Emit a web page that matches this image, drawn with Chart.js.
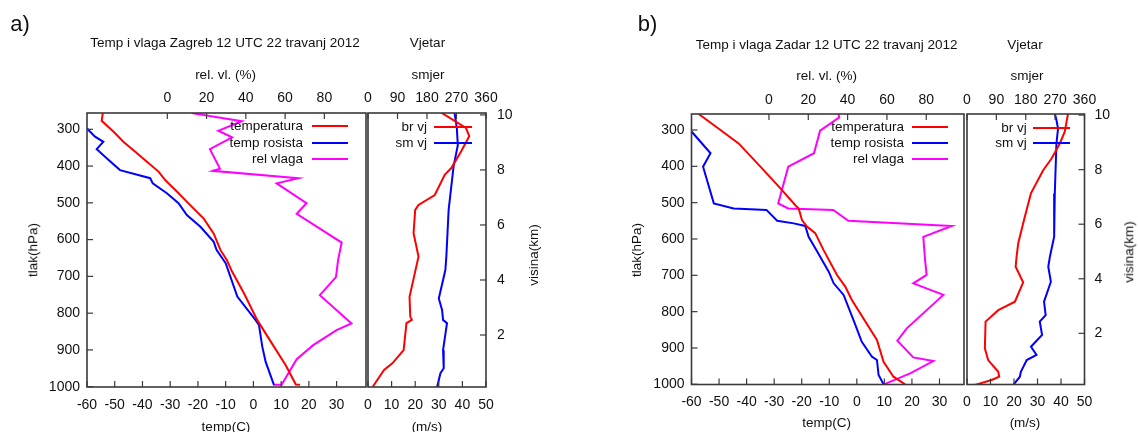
<!DOCTYPE html>
<html><head><meta charset="utf-8">
<script src="https://cdn.jsdelivr.net/npm/chart.js@4.4.1/dist/chart.umd.min.js"></script>
<style>
html,body{margin:0;padding:0;background:#fff;}
#wrap{position:relative;width:1138px;height:432px;overflow:hidden;font-family:'Liberation Sans',Arial,sans-serif;color:#111;}
canvas{position:absolute;left:0;top:0;}
.t{position:absolute;white-space:nowrap;transform:translate(-50%,-50%);font-size:13.5px;line-height:1;}
.r{transform:translate(-50%,-50%) rotate(-90deg);}
.lg{position:absolute;white-space:nowrap;transform:translate(-100%,-50%);font-size:13.5px;line-height:1;}
.ln{position:absolute;height:2px;}
</style></head><body>
<div id="wrap">
<canvas id="cA1" width="1138" height="432"></canvas>
<canvas id="cA2" width="1138" height="432"></canvas>
<canvas id="cB1" width="1138" height="432"></canvas>
<canvas id="cB2" width="1138" height="432"></canvas>

<div class="t" style="left:20px;top:24px;font-size:22px">a)</div>
<div class="t" style="left:225px;top:43px">Temp i vlaga Zagreb 12 UTC 22 travanj 2012</div>
<div class="t" style="left:427.5px;top:43px">Vjetar</div>
<div class="t" style="left:225.5px;top:75px">rel. vl. (%)</div>
<div class="t" style="left:428px;top:75px">smjer</div>
<div class="t r" style="left:33px;top:250px">tlak(hPa)</div>
<div class="t r" style="left:534px;top:255px">visina(km)</div>
<div class="t" style="left:226px;top:427px">temp(C)</div>
<div class="t" style="left:427px;top:427px">(m/s)</div>

<div class="t" style="left:647.5px;top:24px;font-size:22px">b)</div>
<div class="t" style="left:826.7px;top:45px">Temp i vlaga Zadar 12 UTC 22 travanj 2012</div>
<div class="t" style="left:1025px;top:45px">Vjetar</div>
<div class="t" style="left:826.7px;top:76px">rel. vl. (%)</div>
<div class="t" style="left:1027px;top:76px">smjer</div>
<div class="t r" style="left:637px;top:250px">tlak(hPa)</div>
<div class="t r" style="left:1129px;top:252px">visina(km)</div>
<div class="t" style="left:826.7px;top:423.3px">temp(C)</div>
<div class="t" style="left:1025px;top:423.3px">(m/s)</div>
</div>

<script>
// ---------------- DATA ----------------
// Zagreb (a)
const zgTempP = [256, 277, 306, 334, 361, 388, 415, 438, 470, 507, 543, 584, 628, 657, 687, 746, 819, 891, 941, 994, 995];
const zgTemp  = [-54.3, -54.7, -50.5, -46.9, -42.6, -38.4, -34.2, -31.8, -27.5, -22.7, -17.9, -14.3, -11.9, -9.5, -7.7, -3.4, 1.4, 7.4, 11.6, 15.3, 16.8];
const zgDewP  = [298, 320, 334, 354, 383, 411, 433, 447, 474, 501, 533, 565, 606, 628, 664, 755, 819, 832, 891, 932, 995];
const zgDew   = [-60, -57.1, -54.1, -56.5, -52.3, -48.1, -37.2, -36.3, -31.2, -27, -24, -19.1, -14.3, -13.3, -10, -5.8, 0.8, 2, 3.2, 4.4, 7.4];
const zgRhP   = [256, 278, 304, 322, 354, 407, 413, 433, 447, 501, 530, 608, 655, 702, 751, 828, 846, 887, 925, 995, 995];
const zgRh    = [12.4, 37.9, 26.0, 33.0, 21.7, 26.8, 23.2, 66.7, 55.7, 70.9, 65.9, 88.8, 87.0, 85.9, 77.7, 93.8, 86.2, 74.3, 65.9, 58.2, 53.9];
const zgSpdH  = [10.08, 9.53, 9.23, 8.68, 8.07, 7.82, 7.09, 6.73, 6.55, 5.70, 4.85, 3.39, 2.67, 2.55, 2.43, 1.45, 0.97, 0.73, 0.12];
const zgSpd   = [31.1, 41.5, 42.9, 39.5, 35.3, 32.5, 28.3, 21.4, 20.0, 19.3, 21.4, 17.6, 17.9, 18.6, 16.3, 15.1, 10.3, 6.8, 2.0];
const zgDirH  = [10.08, 9.53, 8.9, 8.12, 6.55, 4.85, 4.36, 3.33, 2.91, 2.55, 2.43, 1.45, 0.79, 0.61, 0.12];
const zgDir   = [264, 271, 274, 261, 246, 239, 236, 216, 226, 229, 241, 229, 231, 221, 211];
// Zadar (b)
const zdTempP = [256, 300, 337, 401, 460, 507, 516, 548, 566, 584, 630, 699, 731, 768, 878, 938, 979, 1000];
const zdTemp  = [-57.4, -49.5, -42.9, -35, -27.8, -22.3, -21.1, -19.9, -18.1, -15.1, -12.1, -7.2, -4.2, -1.8, 7.3, 9.7, 13.3, 17.5];
const zdDewP  = [304, 364, 401, 502, 516, 520, 550, 557, 564, 594, 630, 690, 722, 754, 823, 883, 924, 933, 974, 1000];
const zdDew   = [-60, -53.1, -55.8, -51.9, -44.7, -32.8, -28.9, -22.9, -18.7, -17.5, -14.7, -10.2, -8.4, -4.8, -1.2, 1.8, 5.5, 7.3, 7.9, 9.7];
const zdRhP   = [256, 265, 302, 364, 401, 502, 516, 520, 550, 564, 594, 658, 699, 722, 754, 846, 880, 926, 936, 970, 1000];
const zdRh    = [35.3, 35.8, 26, 22.9, 9.8, 4.7, 9.8, 32.7, 40.4, 93, 78.5, 79.4, 80.2, 73.4, 88.7, 70.1, 65.3, 73.4, 83.6, 71.8, 58.5];
const zdSpdH  = [10.06, 9.39, 8.96, 8.41, 7.98, 7.13, 6.27, 5.30, 4.81, 4.44, 3.87, 3.16, 2.85, 2.43, 1.45, 1.02, 0.59, 0.41, 0.29, 0.11];
const zdSpd   = [43.0, 41.6, 39.5, 36.0, 32.4, 27.2, 24.6, 21.8, 21.1, 20.7, 23.9, 20.4, 13.3, 7.9, 7.6, 9.0, 13.3, 13.7, 10.5, 3.4];
const zdDirH  = [10.06, 9.82, 9.51, 8.96, 7.13, 5.54, 4.81, 4.44, 3.89, 3.16, 2.67, 2.43, 1.94, 1.51, 1.21, 1.02, 0.59, 0.41, 0.11];
const zdDir   = [269, 274, 279, 274, 269, 267, 254, 249, 257, 236, 241, 223, 230, 196, 213, 183, 165, 162, 142];
// tick labels
const tempTicks   = [-60, -50, -40, -30, -20, -10, 0, 10, 20, 30];
const rhTicks     = [0, 20, 40, 60, 80];
const presTicks   = [300, 400, 500, 600, 700, 800, 900, 1000];
const speedTicks  = [0, 10, 20, 30, 40, 50];
const dirTicks    = [0, 90, 180, 270, 360];
const heightTicks = [2, 4, 6, 8, 10];
// series names
const sondeLabels = ['temperatura', 'temp rosista', 'rel vlaga'];
const windLabels  = ['br vj', 'sm vj'];

// ---------------- CHARTS ----------------
const FONT = "'Liberation Sans', Arial, sans-serif";
Chart.defaults.font.family = FONT;
Chart.defaults.font.size = 14;
Chart.defaults.color = '#111';
const RED = '#ff0000', BLUE = '#0000ff', MAG = '#ff00ff';
const W = 1138, H = 432;
const AXV = 46; // width of vertical axis boxes
const AXH = 34; // height of horizontal axis boxes

function pts(xs, ys) { return xs.map((x, i) => ({ x: x, y: ys[i] })); }

const frameTicks = {
  id: 'frameTicks',
  afterDraw(chart) {
    const ctx = chart.ctx, a = chart.chartArea;
    ctx.save();
    ctx.strokeStyle = '#3a3a3a';
    ctx.lineWidth = 1.2;
    Object.values(chart.scales).forEach(s => {
      s.ticks.forEach(t => {
        const p = s.getPixelForValue(t.value);
        ctx.beginPath();
        if (s.position === 'left') { ctx.moveTo(a.left, p); ctx.lineTo(a.left + 6, p); }
        else if (s.position === 'right') { ctx.moveTo(a.right, p); ctx.lineTo(a.right - 6, p); }
        else if (s.position === 'bottom') { ctx.moveTo(p, a.bottom); ctx.lineTo(p, a.bottom - 6); }
        else { ctx.moveTo(p, a.top); ctx.lineTo(p, a.top + 6); }
        ctx.stroke();
      });
    });
    ctx.lineWidth = 1.6;
    ctx.strokeRect(a.left, a.top, a.right - a.left, a.bottom - a.top);
    ctx.restore();
  }
};

function axis(pos, min, max, ticks, pad, reverse) {
  return {
    type: 'linear', position: pos, min: min, max: max, reverse: !!reverse,
    grid: { display: false, drawTicks: false, tickLength: 0 }, border: { display: false },
    ticks: { padding: pad, autoSkip: false, maxRotation: 0, minRotation: 0, callback: v => String(v) },
    afterBuildTicks: s => { s.ticks = ticks.map(v => ({ value: v })); },
    afterFit: s => { if (pos === 'left' || pos === 'right') s.width = AXV; else s.height = AXH; }
  };
}

function ds(label, data, color, xAxisID, yAxisID) {
  return { label: label, data: data, borderColor: color, backgroundColor: color, borderWidth: 2,
    showLine: true, pointRadius: 0, tension: 0, clip: 0, xAxisID: xAxisID, yAxisID: yAxisID };
}

function make(id, g, datasets, scales) {
  const hasLeft = Object.values(scales).some(s => s.position === 'left');
  const hasRight = Object.values(scales).some(s => s.position === 'right');
  return new Chart(document.getElementById(id), {
    type: 'scatter',
    data: { datasets: datasets },
    options: {
      responsive: false, animation: false, devicePixelRatio: 1,
      layout: { padding: {
        left: g.l - (hasLeft ? AXV : 0), right: W - g.r - (hasRight ? AXV : 0),
        top: g.t - AXH, bottom: H - g.b - AXH } },
      plugins: { legend: { display: false }, tooltip: { enabled: false }, title: { display: false } },
      scales: scales
    },
    plugins: [frameTicks]
  });
}

function legend(chart, textRight, x1, x2, rows) {
  const wrap = document.getElementById('wrap');
  chart.data.datasets.forEach((d, i) => {
    const t = document.createElement('div');
    t.className = 'lg'; t.textContent = d.label;
    t.style.left = textRight + 'px'; t.style.top = rows[i] + 'px';
    wrap.appendChild(t);
    const l = document.createElement('div');
    l.className = 'ln'; l.style.background = d.borderColor;
    l.style.left = x1 + 'px'; l.style.width = (x2 - x1) + 'px'; l.style.top = (rows[i] - 1) + 'px';
    wrap.appendChild(l);
  });
}

// Panel a
const gA = { l: 87, r: 366, t: 113, b: 387 };
const gAW = { l: 368, r: 486, t: 113, b: 387 };
const chA1 = make('cA1', gA, [
  ds(sondeLabels[0], pts(zgTemp, zgTempP), RED, 'x', 'y'),
  ds(sondeLabels[1], pts(zgDew, zgDewP), BLUE, 'x', 'y'),
  ds(sondeLabels[2], pts(zgRh, zgRhP), MAG, 'x2', 'y')
], {
  x: axis('bottom', -60, 40.6, tempTicks, 10),
  x2: axis('top', -40.9, 101.2, rhTicks, 6),
  y: axis('left', 255.7, 1000.8, presTicks, 7, true)
});
const chA2 = make('cA2', gAW, [
  ds(windLabels[0], pts(zgSpd, zgSpdH), RED, 'x', 'y'),
  ds(windLabels[1], pts(zgDir, zgDirH), BLUE, 'x2', 'y')
], {
  x: axis('bottom', 0, 50, speedTicks, 10),
  x2: axis('top', 0, 360, dirTicks, 6),
  y: axis('right', 0.11, 10.07, heightTicks, 11)
});

// Panel b
const gB = { l: 691.5, r: 964, t: 114, b: 384.5 };
const gBW = { l: 967, r: 1084.5, t: 114, b: 384.5 };
const chB1 = make('cB1', gB, [
  ds(sondeLabels[0], pts(zdTemp, zdTempP), RED, 'x', 'y'),
  ds(sondeLabels[1], pts(zdDew, zdDewP), BLUE, 'x', 'y'),
  ds(sondeLabels[2], pts(zdRh, zdRhP), MAG, 'x2', 'y')
], {
  x: axis('bottom', -60, 38.9, tempTicks, 9),
  x2: axis('top', -39.4, 99.2, rhTicks, 5),
  y: axis('left', 256, 1000.5, presTicks, 7, true)
});
const chB2 = make('cB2', gBW, [
  ds(windLabels[0], pts(zdSpd, zdSpdH), RED, 'x', 'y'),
  ds(windLabels[1], pts(zdDir, zdDirH), BLUE, 'x2', 'y')
], {
  x: axis('bottom', 0, 50, speedTicks, 9),
  x2: axis('top', 0, 360, dirTicks, 5),
  y: axis('right', 0.124, 10.04, heightTicks, 10)
});

legend(chA1, 303, 312, 348, [126, 142.7, 159]);
legend(chA2, 427, 434, 472, [126.7, 142.7]);
legend(chB1, 904, 912, 948, [127.3, 143.3, 159]);
legend(chB2, 1026.7, 1033, 1070, [127.7, 142.7]);
</script>
</body></html>
